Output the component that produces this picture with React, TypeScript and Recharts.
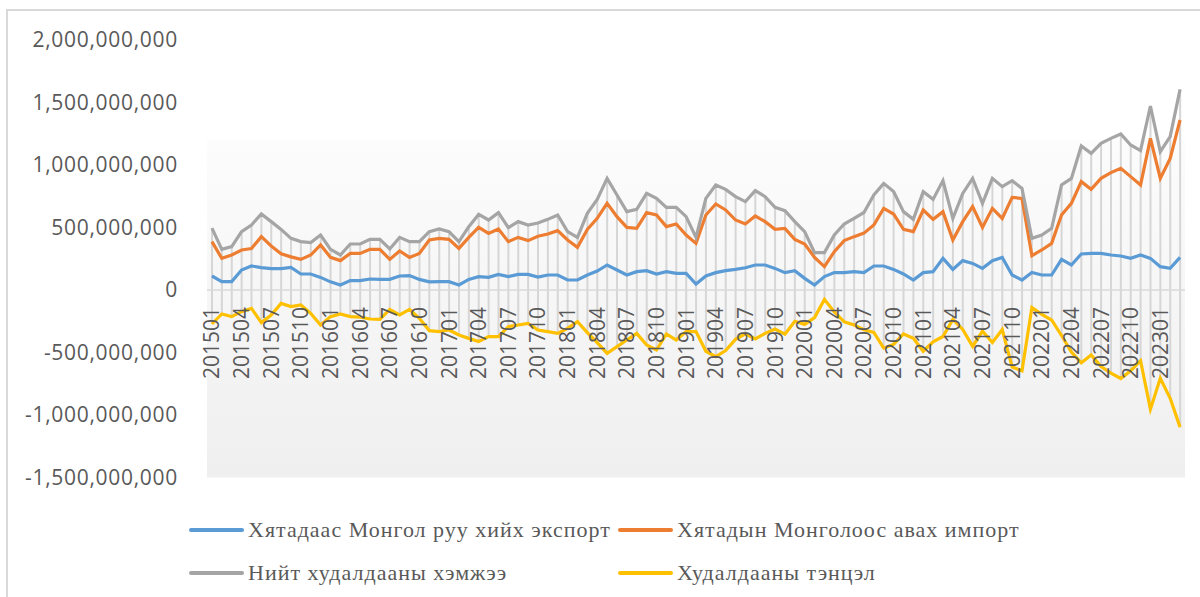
import {
  ComposedChart,
  Line,
  Bar,
  XAxis,
  YAxis,
  ReferenceArea,
  ReferenceLine,
} from 'recharts';

// month categories 201501 .. 202303
const months: string[] = [];
for (let y = 2015; y <= 2023; y++) {
  for (let m = 1; m <= 12; m++) {
    if (y === 2023 && m > 3) break;
    months.push(`${y}${String(m).padStart(2, '0')}`);
  }
}

// values in millions
const exportToMongolia = [
  112, 67, 67, 160, 192, 179, 171, 171, 181, 128, 128, 101,
  65, 40, 75, 75, 88, 85, 85, 112, 115, 85, 65, 67,
  67, 40, 85, 107, 101, 125, 107, 125, 125, 103, 120, 120,
  80, 80, 120, 152, 200, 160, 120, 147, 155, 128, 147, 133,
  133, 48, 112, 139, 155, 165, 178, 200, 200, 173, 139, 155,
  93, 40, 107, 139, 139, 147, 140, 192, 192, 165, 128, 80,
  139, 147, 253, 165, 235, 213, 173, 235, 261, 120, 80, 140,
  120, 120, 245, 200, 288, 293, 293, 280, 272, 253, 280, 253,
  187, 173, 261,
];

const importFromMongolia = [
  387, 253, 280, 320, 331, 427, 352, 290, 265, 245, 280, 360,
  261, 235, 293, 293, 325, 325, 245, 312, 261, 293, 400, 413,
  405, 333, 421, 501, 453, 488, 387, 421, 395, 430, 448, 475,
  400, 341, 485, 573, 693, 587, 501, 493, 619, 600, 507, 528,
  440, 373, 600, 688, 640, 560, 528, 592, 547, 485, 493, 405,
  368, 261, 187, 307, 395, 427, 455, 520, 653, 608, 485, 467,
  640, 565, 627, 400, 547, 667, 501, 653, 573, 741, 733, 275,
  320, 373, 600, 693, 867, 805, 893, 939, 973, 907, 840, 1213,
  893, 1053, 1360,
];

const totalTrade = [
  495, 325, 347, 467, 520, 608, 547, 485, 413, 387, 379, 440,
  325, 280, 368, 368, 405, 405, 328, 421, 387, 387, 467, 488,
  467, 387, 507, 605, 560, 619, 499, 547, 520, 536, 565, 600,
  467, 421, 613, 725, 893, 760, 627, 645, 773, 733, 661, 661,
  587, 421, 733, 840, 805, 747, 707, 795, 747, 661, 635, 547,
  467, 299, 299, 440, 528, 573, 620, 760, 853, 787, 627, 565,
  787, 725, 875, 573, 773, 893, 693, 893, 827, 875, 813, 413,
  440, 493, 840, 893, 1152, 1093, 1173, 1213, 1248, 1160, 1115, 1472,
  1107, 1227, 1605,
];

const tradeBalance = [
  -272, -192, -213, -173, -147, -261, -200, -107, -133, -120, -187, -280,
  -213, -192, -213, -217, -232, -235, -155, -200, -155, -227, -325, -333,
  -320, -360, -387, -413, -373, -373, -293, -280, -267, -320, -333, -347,
  -307, -253, -341, -421, -507, -453, -400, -347, -440, -480, -352, -400,
  -333, -333, -490, -533, -485, -395, -350, -392, -347, -312, -354, -250,
  -275, -221, -75, -175, -255, -280, -318, -340, -465, -435, -352, -387,
  -490, -415, -372, -235, -316, -451, -330, -420, -316, -617, -646, -140,
  -195, -240, -364, -497, -583, -520, -613, -665, -708, -647, -566, -953,
  -706, -866, -1097,
];

const yTicks = [-1500000000, -1000000000, -500000000, 0, 500000000, 1000000000, 1500000000, 2000000000];

const seriesNames = [
  'Хятадаас Монгол руу хийх экспорт',
  'Хятадын Монголоос авах импорт',
  'Нийт худалдааны хэмжээ',
  'Худалдааны тэнцэл',
];
const colors = ['#5B9BD5', '#ED7D31', '#A5A5A5', '#FFC000'];

const data = months.map((month, i) => ({
  month,
  exp: exportToMongolia[i] * 1e6,
  imp: importFromMongolia[i] * 1e6,
  total: totalTrade[i] * 1e6,
  balance: tradeBalance[i] * 1e6,
  hiLo: [tradeBalance[i] * 1e6, totalTrade[i] * 1e6],
}));

// plot geometry
const PLOT_TOP = 40;
const PLOT_BOTTOM = 477.5;
const ZERO_Y = PLOT_TOP + (PLOT_BOTTOM - PLOT_TOP) * (2 / 3.5);
const FONT = '"Open Sans", sans-serif';

const MonthTick = (props: any) => {
  const { x, payload } = props;
  const y = ZERO_Y + 17;
  return (
    <text
      x={x}
      y={y}
      transform={`rotate(-90, ${x}, ${y})`}
      textAnchor="end"
      dy="0.36em"
      fill="#595959"
      fontSize={21}
      fontFamily={FONT}
    >
      {payload.value}
    </text>
  );
};

const LegendItem = ({ name, color, left, top }: { name: string; color: string; left: number; top: number }) => (
  <div style={{ position: 'absolute', left, top, display: 'flex', alignItems: 'center' }}>
    <div style={{ width: 55, height: 4, borderRadius: 2, background: color, marginRight: 4 }} />
    <span
      style={{
        fontFamily: '"Liberation Serif", "Times New Roman", serif',
        fontSize: 22,
        letterSpacing: 1,
        color: '#595959',
        whiteSpace: 'nowrap',
      }}
    >
      {name}
    </span>
  </div>
);

export default function App() {
  return (
    <div style={{ position: 'absolute', left: 0, top: 0, width: 1200, height: 597, background: '#fff', overflow: 'hidden' }}>
      <div
        style={{
          position: 'absolute',
          left: 6,
          top: 9,
          width: 1200,
          height: 700,
          borderLeft: '2px solid #d9d9d9',
          borderTop: '2px solid #d9d9d9',
        }}
      />
      <div style={{ position: 'absolute', left: 0, top: 0 }}>
        <ComposedChart
          width={1200}
          height={597}
          data={data}
          margin={{ top: PLOT_TOP, right: 15, bottom: 597 - PLOT_BOTTOM - 30, left: 0 }}
        >
          <defs>
            <linearGradient id="plotBg" x1="0" y1="0" x2="0" y2="1">
              <stop offset="0%" stopColor="#fcfcfc" />
              <stop offset="100%" stopColor="#efefef" />
            </linearGradient>
          </defs>
          <ReferenceArea y1={-1500000000} y2={1200000000} fill="url(#plotBg)" fillOpacity={1} stroke="none" />
          <XAxis
            dataKey="month"
            interval={2}
            axisLine={false}
            tickLine={false}
            height={30}
            tick={<MonthTick />}
          />
          <YAxis
            width={207}
            domain={[-1500000000, 2000000000]}
            ticks={yTicks}
            axisLine={false}
            tickLine={false}
            tickSize={0}
            tickMargin={29}
            tickFormatter={(v: number) => v.toLocaleString('en-US')}
            tick={{ fill: '#595959', fontSize: 21, fontFamily: FONT, letterSpacing: 0.7 }}
          />
          <ReferenceLine y={0} stroke="#d9d9d9" strokeWidth={1.5} />
          <Bar dataKey="hiLo" barSize={2} fill="#d6d6d6" isAnimationActive={false} />
          <Line dataKey="exp" stroke={colors[0]} strokeWidth={3.2} dot={false} isAnimationActive={false} />
          <Line dataKey="imp" stroke={colors[1]} strokeWidth={3.2} dot={false} isAnimationActive={false} />
          <Line dataKey="total" stroke={colors[2]} strokeWidth={3.2} dot={false} isAnimationActive={false} />
          <Line dataKey="balance" stroke={colors[3]} strokeWidth={3.2} dot={false} isAnimationActive={false} />
        </ComposedChart>
      </div>
      <LegendItem name={seriesNames[0]} color={colors[0]} left={189} top={517} />
      <LegendItem name={seriesNames[1]} color={colors[1]} left={618} top={517} />
      <LegendItem name={seriesNames[2]} color={colors[2]} left={189} top={560} />
      <LegendItem name={seriesNames[3]} color={colors[3]} left={618} top={560} />
    </div>
  );
}
